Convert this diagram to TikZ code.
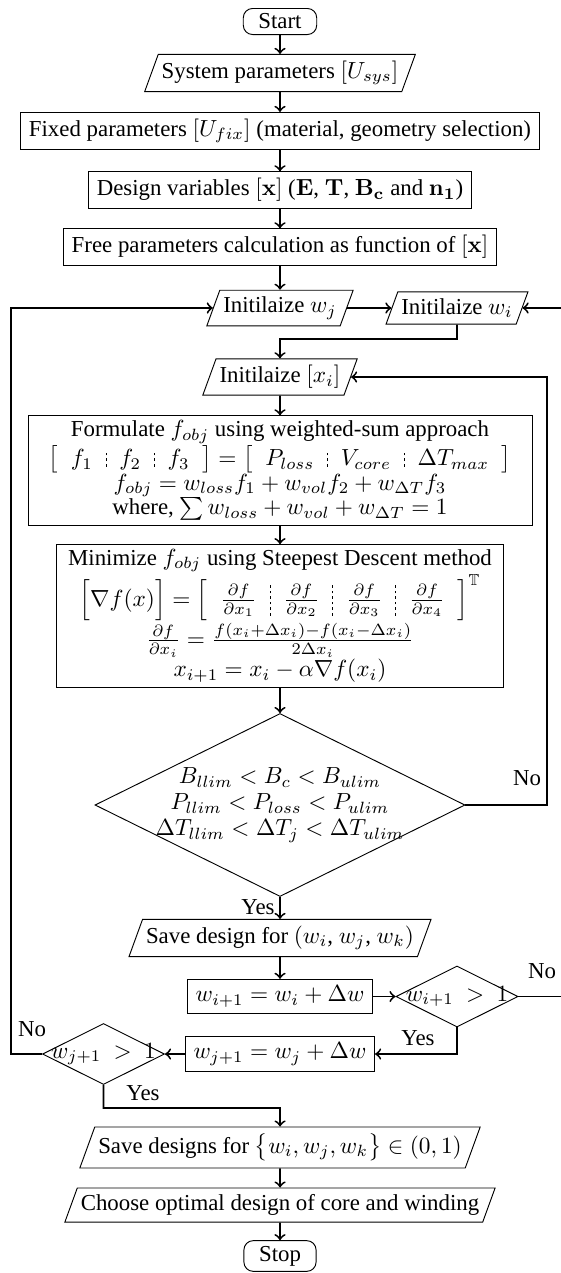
\documentclass[tikz,border=0pt]{standalone}
\usepackage{amsmath,amssymb}
\usepackage[no-math]{fontspec}
\setmainfont{Liberation Serif}
\usetikzlibrary{shapes.geometric,calc}
\newdimen\px \px=0.429pt
\newcommand{\dsep}[1][1.9ex]{\vcenter{\hbox{\vbox to #1{\cleaders\vbox to 2.4pt{\vss\hrule width 0.4pt height 1.2pt\vss}\vfil}}}}
\newcommand{\colsp}{\hspace{5.5pt}}
\begin{document}
\begin{tikzpicture}[x=0.429pt,y=-0.429pt,
  base/.style={draw,line width=0.4pt,align=center,font=\fontsize{9.8}{10.6}\selectfont},
  box/.style={base,rectangle,inner xsep=3.5pt,inner ysep=2.8pt},
  io/.style={base,trapezium,trapezium left angle=70,trapezium right angle=110,trapezium stretches=true,inner xsep=1.5pt,inner ysep=2.8pt},
  term/.style={base,rectangle,rounded corners=4pt,inner xsep=6.5pt,inner ysep=2.3pt},
  dec/.style={base,diamond,aspect=2,inner sep=0pt},
  dtext/.style={align=center,inner sep=0pt,font=\fontsize{10}{10.6}\selectfont},
  arr/.style={->,line width=0.8pt},
  lbl/.style={font=\fontsize{9.8}{10.6}\selectfont,inner sep=0pt}]
\clip (0,0) rectangle (561,1273);
% nodes
\node[term] (start) at (280,21.5) {Start};
\node[io] (sys) at (280,73) {System parameters $[U_{sys}]$};
\node[box] (fix) at (280,131) {Fixed parameters $[U_{fix}]$ (material, geometry selection)};
\node[box] (des) at (280,190) {Design variables $[\mathbf{x}]$ ($\mathbf{E}$, $\mathbf{T}$, $\mathbf{B_c}$ and $\mathbf{n_1}$)};
\node[box] (free) at (280,247) {Free parameters calculation as function of $[\mathbf{x}]$};
\node[io] (wj) at (280,308) {Initilaize $w_j$};
\node[io] (wi) at (457,308) {Initilaize $w_i$};
\node[io] (xi) at (280,377) {Initilaize $[x_i]$};
\node[box,minimum width=504\px,minimum height=109\px,inner ysep=2pt] (form) at (280,470.5) {Formulate $f_{obj}$ using weighted-sum approach\\
  $\big[\colsp f_1\colsp\dsep\colsp f_2\colsp\dsep\colsp f_3\colsp\big]=\big[\colsp P_{loss}\colsp\dsep\colsp V_{core}\colsp\dsep\colsp \Delta T_{max}\colsp\big]$\\
  $f_{obj}=w_{loss}f_1+w_{vol}f_2+w_{\Delta T}f_3$\\
  where, $\sum w_{loss}+w_{vol}+w_{\Delta T}=1$};
\node[box,minimum width=447\px,minimum height=136\px,inner ysep=2pt] (mini) at (280,616) {Minimize $f_{obj}$ using Steepest Descent method\\
  $\left[\vphantom{\frac{\partial f}{\partial x_1}}\nabla f(x)\right]=\left[\colsp\frac{\partial f}{\partial x_1}\colsp\dsep[3.4ex]\colsp\frac{\partial f}{\partial x_2}\colsp\dsep[3.4ex]\colsp\frac{\partial f}{\partial x_3}\colsp\dsep[3.4ex]\colsp\frac{\partial f}{\partial x_4}\colsp\right]^{\mathbb{T}}$\\
  $\frac{\partial f}{\partial x_i}=\frac{f(x_i+\Delta x_i)-f(x_i-\Delta x_i)}{2\Delta x_i}$\\
  $x_{i+1}=x_i-\alpha\nabla f(x_i)$};
\node[dec,minimum width=370\px,minimum height=183\px,
  label={[dtext]center:$B_{llim}<B_c<B_{ulim}$\\[0.5pt]$P_{llim}<P_{loss}<P_{ulim}$\\[0.5pt]$\Delta T_{llim}<\Delta T_j<\Delta T_{ulim}$}] (cond) at (280,805) {};
\node[io] (save) at (280,938) {Save design for $(w_i$, $w_j$, $w_k)$};
\node[box] (upi) at (280,996.5) {$w_{i+1}=w_i+\Delta w$};
\node[dec,minimum width=122\px,minimum height=61\px,label={[dtext]center:$w_{i+1}\ >\ 1$}] (di) at (457,996.5) {};
\node[box] (upj) at (280,1054) {$w_{j+1}=w_j+\Delta w$};
\node[dec,minimum width=122\px,minimum height=61\px,label={[dtext]center:$w_{j+1}\ >\ 1$}] (dj) at (103.5,1054) {};
\node[io] (saveall) at (280,1147.5) {Save designs for $\big\{w_i,w_j,w_k\big\}\in(0,1)$};
\node[io] (choose) at (280,1205) {Choose optimal design of core and winding};
\node[term] (stop) at (280,1256) {Stop};
% helper coordinates
\coordinate (k1) at (280,339);
\coordinate (rr) at (547,0);
\coordinate (re) at (580,0);
\coordinate (ll) at (11,0);
\coordinate (k2) at (280,1108);
% connectors
\draw[arr] (start) -- (sys);
\draw[arr] (sys) -- (fix);
\draw[arr] (fix) -- (des);
\draw[arr] (des) -- (free);
\draw[arr] (free) -- (wj);
\draw[arr] (wj) -- (wi);
\draw[arr] (wi.south) |- (k1) -- (xi.north);
\draw[arr] (xi) -- (form);
\draw[arr] (form) -- (mini);
\draw[arr] (mini) -- (cond);
\draw[arr] (cond.east) -| (rr |- xi.east) -- (xi.east);
\draw[arr] (cond.south) -- (save.north);
\draw[arr] (save) -- (upi);
\draw[arr] (upi) -- (di);
\draw[arr] (di.east) -| (re |- wi.east) -- (wi.east);
\draw[arr] (di.south) |- (upj.east);
\draw[arr] (upj) -- (dj);
\draw[arr] (dj.west) -| (ll |- wj.west) -- (wj.west);
\draw[arr] (dj.south) |- (k2) -- (saveall.north);
\draw[arr] (saveall) -- (choose);
\draw[arr] (choose) -- (stop);
% labels
\node[lbl] at (527,778) {No};
\node[lbl] at (258,907) {Yes};
\node[lbl] at (542,971) {No};
\node[lbl] at (418,1038) {Yes};
\node[lbl] at (32,1029) {No};
\node[lbl] at (143,1093) {Yes};
\end{tikzpicture}
\end{document}
